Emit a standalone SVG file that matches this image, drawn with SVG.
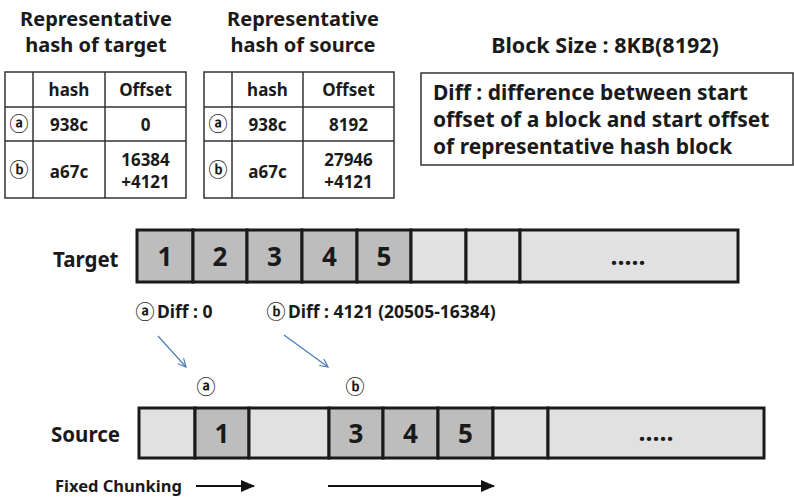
<svg xmlns="http://www.w3.org/2000/svg" width="794" height="498" viewBox="0 0 794 498">
  <style>
    text { font-family: "Noto Sans", "Open Sans", "Liberation Sans", sans-serif; font-weight: bold; fill: #1a1a1a; }
    .title { font-size: 20px; text-anchor: middle; }
    .cell { font-size: 17px; text-anchor: middle; }
    .circ { font-family: "Noto Sans CJK KR", "DejaVu Sans", sans-serif; font-weight: bold; font-size: 19px; text-anchor: middle; }
    .grid { stroke: #333; stroke-width: 1.5; fill: none; }
    .dark { fill: #bdbdbd; stroke: #1a1a1a; stroke-width: 3; }
    .light { fill: #e1e1e1; stroke: #1a1a1a; stroke-width: 3; }
    .num { font-size: 26px; text-anchor: middle; }
    .dots { font-size: 25px; text-anchor: middle; }
    .label { font-size: 20.5px; }
    .note { font-size: 21px; }
    .small { font-size: 17.5px; }
    .blue { stroke: #4a7ebb; stroke-width: 1.2; fill: none; marker-end: url(#openHead); }
    .black { stroke: #111; stroke-width: 2.2; fill: none; marker-end: url(#solidHead); }
  </style>
  <defs>
    <marker id="openHead" viewBox="0 0 10 10" refX="9" refY="5" markerWidth="10" markerHeight="10" markerUnits="userSpaceOnUse" orient="auto">
      <path d="M1,1 L9,5 L1,9" fill="none" stroke="#4a7ebb" stroke-width="1.2"/>
    </marker>
    <marker id="solidHead" viewBox="0 0 14 12" refX="13" refY="6" markerWidth="14" markerHeight="12" markerUnits="userSpaceOnUse" orient="auto">
      <path d="M0,0 L14,6 L0,12 Z" fill="#111"/>
    </marker>
  </defs>

  <!-- Representative hash table of target -->
  <g id="table-target">
    <text class="title" x="96" y="26">Representative</text>
    <text class="title" x="96" y="52">hash of target</text>
    <rect class="grid" x="5" y="72" width="181" height="126"/>
    <line class="grid" x1="33" y1="72" x2="33" y2="198"/>
    <line class="grid" x1="105" y1="72" x2="105" y2="198"/>
    <line class="grid" x1="5" y1="107" x2="186" y2="107"/>
    <line class="grid" x1="5" y1="141" x2="186" y2="141"/>
    <text class="cell" x="69" y="96">hash</text>
    <text class="cell" x="145.5" y="96">Offset</text>
    <text class="circ" x="19" y="131">ⓐ</text>
    <text class="cell" x="69" y="131">938c</text>
    <text class="cell" x="145.5" y="131">0</text>
    <text class="circ" x="19" y="177">ⓑ</text>
    <text class="cell" x="69" y="178">a67c</text>
    <text class="cell" x="145.5" y="166">16384</text>
    <text class="cell" x="145.5" y="188">+4121</text>
  </g>

  <!-- Representative hash table of source -->
  <g id="table-source">
    <text class="title" x="303" y="26">Representative</text>
    <text class="title" x="303" y="52">hash of source</text>
    <rect class="grid" x="204" y="72" width="190" height="126"/>
    <line class="grid" x1="232" y1="72" x2="232" y2="198"/>
    <line class="grid" x1="303" y1="72" x2="303" y2="198"/>
    <line class="grid" x1="204" y1="107" x2="394" y2="107"/>
    <line class="grid" x1="204" y1="141" x2="394" y2="141"/>
    <text class="cell" x="267.5" y="96">hash</text>
    <text class="cell" x="348.5" y="96">Offset</text>
    <text class="circ" x="218" y="131">ⓐ</text>
    <text class="cell" x="267.5" y="131">938c</text>
    <text class="cell" x="348.5" y="131">8192</text>
    <text class="circ" x="218" y="177">ⓑ</text>
    <text class="cell" x="267.5" y="178">a67c</text>
    <text class="cell" x="348.5" y="166">27946</text>
    <text class="cell" x="348.5" y="188">+4121</text>
  </g>

  <!-- Block size and definition of Diff -->
  <g id="block-size">
    <text x="605" y="53" font-size="21.5" text-anchor="middle">Block Size : 8KB(8192)</text>
  </g>
  <g id="diff-note">
    <rect x="421" y="73" width="372" height="92" fill="none" stroke="#333" stroke-width="1.5"/>
    <text class="note" x="433" y="100">Diff : difference between start</text>
    <text class="note" x="433" y="127">offset of a block and start offset</text>
    <text class="note" x="433" y="154">of representative hash block</text>
  </g>

  <!-- Target file blocks -->
  <g id="target">
    <text class="label" x="53" y="267">Target</text>
    <rect class="dark" x="137" y="230" width="56" height="52"/>
    <rect class="dark" x="193" y="230" width="54" height="52"/>
    <rect class="dark" x="247" y="230" width="55" height="52"/>
    <rect class="dark" x="302" y="230" width="55" height="52"/>
    <rect class="dark" x="357" y="230" width="54" height="52"/>
    <rect class="light" x="411" y="230" width="55" height="52"/>
    <rect class="light" x="466" y="230" width="54" height="52"/>
    <rect class="light" x="520" y="230" width="218" height="52"/>
    <text class="num" x="165" y="266">1</text>
    <text class="num" x="220" y="266">2</text>
    <text class="num" x="274.5" y="266">3</text>
    <text class="num" x="329.5" y="266">4</text>
    <text class="num" x="384" y="266">5</text>
    <text class="dots" x="628" y="265">.....</text>
  </g>

  <!-- Diff labels -->
  <g id="diff-a">
    <text class="circ" x="145" y="319">ⓐ</text>
    <text class="small" x="157" y="318">Diff : 0</text>
  </g>
  <g id="diff-b">
    <text class="circ" x="276" y="319">ⓑ</text>
    <text class="small" x="288" y="318">Diff : 4121 (20505-16384)</text>
  </g>

  <!-- Source file blocks -->
  <g id="source">
    <text class="label" x="51" y="442">Source</text>
    <text class="circ" x="206" y="394">ⓐ</text>
    <text class="circ" x="355" y="394">ⓑ</text>
    <rect class="light" x="139" y="408" width="56" height="50"/>
    <rect class="dark" x="195" y="408" width="54" height="50"/>
    <rect class="light" x="249" y="408" width="80" height="50"/>
    <rect class="dark" x="329" y="408" width="54" height="50"/>
    <rect class="dark" x="383" y="408" width="55" height="50"/>
    <rect class="dark" x="438" y="408" width="55" height="50"/>
    <rect class="light" x="493" y="408" width="55" height="50"/>
    <rect class="light" x="548" y="408" width="216" height="50"/>
    <text class="num" x="222" y="443">1</text>
    <text class="num" x="356" y="443">3</text>
    <text class="num" x="410.5" y="443">4</text>
    <text class="num" x="465.5" y="443">5</text>
    <text class="dots" x="656" y="441">.....</text>
  </g>

  <g id="fixed-chunking">
    <text x="55" y="492" font-size="16.5">Fixed Chunking</text>
  </g>

  <!-- Connectors -->
  <g id="connectors">
    <line class="blue" x1="158" y1="336" x2="186" y2="367"/>
    <line class="blue" x1="284" y1="335" x2="328" y2="367"/>
    <line class="black" x1="196" y1="486" x2="254" y2="486"/>
    <line class="black" x1="328" y1="486" x2="494" y2="486"/>
  </g>
</svg>
